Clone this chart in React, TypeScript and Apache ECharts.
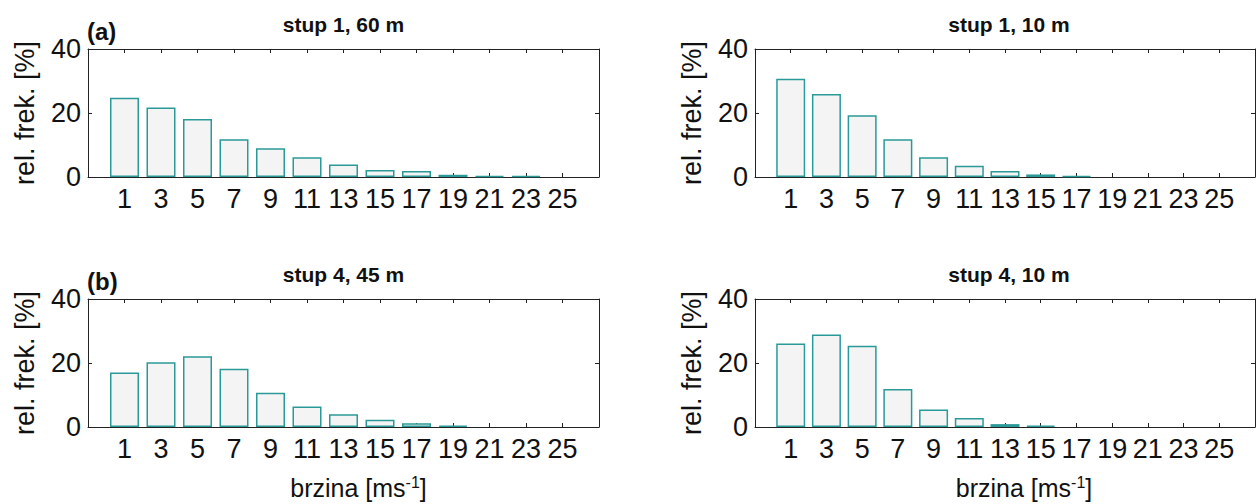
import React, { useEffect, useRef } from "react";
import * as echarts from "echarts";

const speeds = [1, 3, 5, 7, 9, 11, 13, 15, 17, 19, 21, 23, 25];
const stup1_60m = [24.8, 21.7, 18.1, 11.8, 9.0, 6.2, 3.9, 2.2, 1.9, 0.7, 0.3, 0.3, 0];
const stup1_10m = [30.7, 25.9, 19.3, 11.8, 6.2, 3.5, 1.9, 0.8, 0.3, 0, 0, 0, 0];
const stup4_45m = [17.0, 20.2, 22.1, 18.2, 10.7, 6.4, 4.0, 2.3, 1.2, 0.4, 0, 0, 0];
const stup4_10m = [26.1, 28.9, 25.4, 11.9, 5.5, 2.8, 0.9, 0.4, 0, 0, 0, 0, 0];
const panelTitles = ["stup 1, 60 m", "stup 1, 10 m", "stup 4, 45 m", "stup 4, 10 m"];
const panelLetters = ["(a)", "", "(b)", ""];
const yTickValues = [0, 20, 40];
const yLabel = "rel. frek. [%]";

const FONT = "Liberation Sans, Arial, Helvetica, sans-serif";

export default function App() {
  const ref = useRef<HTMLDivElement>(null);
  useEffect(() => {
    if (!ref.current) return;
    const chart = echarts.init(ref.current, null, { renderer: "svg" });
    const panels = [
      { data: stup1_60m, left: 88, top: 49, width: 511 },
      { data: stup1_10m, left: 755, top: 49, width: 508 },
      { data: stup4_45m, left: 88, top: 299, width: 511 },
      { data: stup4_10m, left: 755, top: 299, width: 508 },
    ];
    const H = 128;
    const frameColor = "#222";
    const grid: any[] = [];
    const xAxis: any[] = [];
    const yAxis: any[] = [];
    const series: any[] = [];
    const graphic: any[] = [];
    const yMin = yTickValues[0];
    const yMax = yTickValues[yTickValues.length - 1];
    const yInt = yTickValues[1] - yTickValues[0];
    const xMin = speeds[0] - 2;
    const xMax = speeds[speeds.length - 1] + 2;
    panels.forEach((p, i) => {
      grid.push({ left: p.left, top: p.top, width: p.width, height: H, containLabel: false });
      const axisLine = { show: true, onZero: false, lineStyle: { color: frameColor, width: 1 } };
      const axisTick = { show: true, inside: true, length: 4, lineStyle: { color: frameColor } };
      const baseX = {
        type: "value",
        gridIndex: i,
        min: xMin,
        max: xMax,
        interval: 2,
        splitLine: { show: false },
        axisLine,
        axisTick,
      };
      xAxis.push({
        ...baseX,
        position: "bottom",
        axisLabel: {
          show: true,
          margin: 8,
          fontSize: 27,
          fontFamily: FONT,
          color: "#111",
          formatter: (v: number) => (v < speeds[0] || v > speeds[speeds.length - 1] ? "" : String(v)),
        },
      });
      xAxis.push({ ...baseX, position: "top", axisLabel: { show: false } });
      const baseY = {
        type: "value",
        gridIndex: i,
        min: yMin,
        max: yMax,
        interval: yInt,
        splitLine: { show: false },
        axisLine,
        axisTick,
      };
      yAxis.push({
        ...baseY,
        position: "left",
        axisLabel: { show: true, margin: 7, fontSize: 27, fontFamily: FONT, color: "#111" },
      });
      yAxis.push({ ...baseY, position: "right", axisLabel: { show: false } });
      series.push({
        type: "bar",
        xAxisIndex: 2 * i,
        yAxisIndex: 2 * i,
        barWidth: 29,
        data: speeds.map((s, j) => [s, p.data[j]]).filter((d) => d[1] > 0),
        itemStyle: { color: "#f4f4f4", borderColor: "#2a9a98", borderWidth: 1.5 },
        silent: true,
      });
      const cx = p.left + p.width / 2;
      graphic.push({
        type: "text",
        x: cx,
        y: p.top - 25,
        style: {
          text: panelTitles[i],
          font: `bold 21px ${FONT}`,
          fill: "#111",
          textAlign: "center",
          textVerticalAlign: "middle",
        },
      });
      if (panelLetters[i]) {
        graphic.push({
          type: "text",
          x: p.left - 1,
          y: p.top - 18,
          style: {
            text: panelLetters[i],
            font: `bold 24px ${FONT}`,
            fill: "#111",
            textAlign: "left",
            textVerticalAlign: "middle",
          },
        });
      }
      graphic.push({
        type: "text",
        x: p.left - 63,
        y: p.top + H / 2,
        rotation: Math.PI / 2,
        style: {
          text: yLabel,
          font: `27px ${FONT}`,
          fill: "#111",
          textAlign: "center",
          textVerticalAlign: "middle",
        },
      });
      if (i >= 2) {
        graphic.push({
          type: "text",
          x: cx + 15,
          y: 488,
          style: {
            text: "brzina [ms{sup|-1}]",
            font: `25px ${FONT}`,
            fill: "#111",
            textAlign: "center",
            textVerticalAlign: "middle",
            rich: {
              sup: { fontSize: 16, fontFamily: FONT, verticalAlign: "top", padding: [0, 0, 12, 0], fill: "#111" },
            },
          },
        });
      }
    });
    chart.setOption({
      animation: false,
      backgroundColor: "#ffffff",
      grid,
      xAxis,
      yAxis,
      series,
      graphic,
    });
    return () => chart.dispose();
  }, []);
  return (
    <div
      ref={ref}
      style={{ position: "fixed", left: 0, top: 0, width: 1258, height: 504, background: "#fff" }}
    />
  );
}
